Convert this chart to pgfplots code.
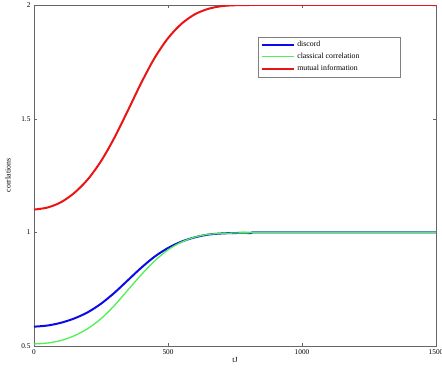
\documentclass[border=0pt]{standalone}
\usepackage{pgfplots}
\pgfplotsset{compat=1.18}
\usetikzlibrary{calc}
\usepackage{fontspec}
\setmainfont{Liberation Serif}
\definecolor{cblue}{RGB}{10,10,235}
\definecolor{cgreen}{RGB}{80,240,80}
\definecolor{cred}{RGB}{235,20,20}
\begin{document}
\begin{tikzpicture}
\begin{axis}[
  scale only axis,
  width=402pt, height=341pt,
  xmin=0, xmax=1500, ymin=0.5, ymax=2,
  xtick={0,500,1000,1500},
  xticklabels={0,500,1000,1500},
  ytick={0.5,1,1.5,2},
  yticklabels={0.5,1,1.5,2},
  tick align=inside,
  major tick length=3pt,
  axis line style={gray!80!black},
  tick style={gray!80!black},
  every tick label/.append style={font=\fontsize{7.3}{8}\selectfont},
  /pgf/number format/assume math mode=true,
  xlabel={tJ}, ylabel={corrlations},
  every axis x label/.style={at={(axis description cs:0.5,0)}, yshift=-14pt, anchor=center, font=\fontsize{7.8}{9}\selectfont},
  every axis y label/.style={at={(axis description cs:0,0.5)}, xshift=-26pt, rotate=90, anchor=center, font=\fontsize{7.8}{9}\selectfont},
  legend style={at={(0.557,0.907)}, anchor=north west, draw=gray, font=\fontsize{7.8}{8.5}\selectfont, row sep=1pt, inner sep=2.5pt},
  legend cell align=left,
  legend image code/.code={\draw[#1] (0cm,0cm) -- (1.15cm,0cm);},
]
\addplot[cblue, line width=2pt, smooth] coordinates {
(0,0.585) (50,0.590) (100,0.602) (150,0.621) (200,0.648) (250,0.686) (300,0.734) (350,0.789) (400,0.844) (450,0.893) (500,0.931) (550,0.959) (600,0.978) (650,0.990) (700,0.995) (750,0.997) (810,0.997)};
\addplot[cblue, line width=2pt, forget plot] coordinates {(810,0.997) (815,1.0) (1500,1.0)};
\addplot[cgreen, line width=1.3pt, smooth] coordinates {
(0,0.509) (50,0.513) (100,0.524) (150,0.545) (200,0.576) (250,0.620) (300,0.678) (350,0.746) (400,0.813) (450,0.874) (500,0.923) (550,0.957) (600,0.979) (650,0.991) (700,0.995) (750,0.997) (810,0.998) (815,1.0) (1500,1.0)};
\addplot[cred, line width=2pt, smooth] coordinates {
(0,1.100) (50,1.109) (100,1.132) (150,1.173) (200,1.232) (250,1.313) (300,1.416) (350,1.535) (400,1.657) (450,1.767) (500,1.854) (550,1.917) (600,1.959) (650,1.983) (700,1.995) (750,1.999) (800,2.0) (1500,2.0)};
\legend{\makebox[98pt][l]{discord}, classical correlation, mutual information}
\end{axis}
\pgfresetboundingbox
\path[use as bounding box] ($(current axis.south west)+(-34pt,-27pt)$) rectangle ($(current axis.north east)+(6pt,5pt)$);
\end{tikzpicture}
\end{document}
